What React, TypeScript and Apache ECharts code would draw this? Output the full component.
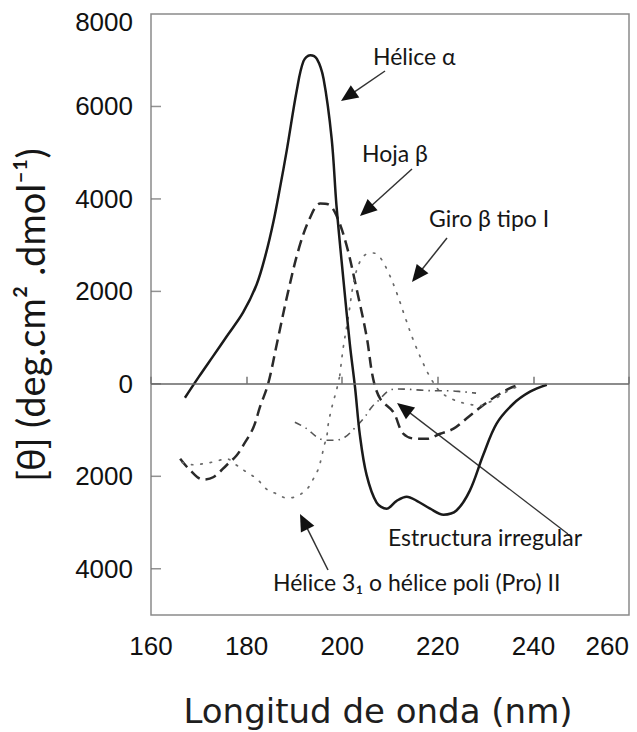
import React, { useEffect, useRef } from 'react';
import * as echarts from 'echarts';

// ---- Data ----
const helixAlphaNm = [167.1, 170, 173, 176, 179.3, 182.1, 184, 185.6, 187, 188.4, 190.5, 191.9, 193.3, 194.7, 196.1, 197.8, 198.8, 200.2, 201.6, 202.7, 203.7, 205.1, 207.2, 209.3, 211.4, 213.5, 215.6, 218.4, 221.2, 223.9, 226.7, 229.5, 232.3, 235.8, 239.3, 242.8];
const helixAlphaVal = [-300, 150, 600, 1050, 1550, 2150, 2800, 3500, 4250, 5050, 6350, 6980, 7110, 7030, 6600, 5300, 3860, 2310, 860, -90, -1110, -1970, -2570, -2700, -2530, -2440, -2530, -2700, -2830, -2740, -2310, -1540, -860, -430, -170, -20];

const betaSheetNm = [166.1, 168.2, 170.9, 173, 175.8, 177.9, 179.3, 181.4, 182.8, 184.5, 186.5, 188.7, 191, 193.3, 195.4, 197.1, 198.8, 200.9, 203, 205.1, 206.5, 208, 210.7, 212.8, 215.6, 217.7, 220.5, 223.3, 226, 229, 232, 235, 237];
const betaSheetVal = [-1620, -1870, -2070, -2020, -1760, -1550, -1330, -950, -500, 0, 950, 2000, 2950, 3600, 3900, 3880, 3640, 3000, 2060, 1030, 100, -330, -610, -1080, -1190, -1190, -1080, -970, -750, -500, -280, -100, -20];

const helix31Nm = [166.5, 168.8, 170.9, 173.4, 175.8, 177.9, 180, 182.1, 184.2, 186.3, 188.4, 190.5, 192.6, 194, 195, 195.7, 196.2, 196.8, 197.1, 197.6, 198.1, 198.8, 199.5];
const helix31Val = [-1700, -1750, -1730, -1680, -1620, -1760, -1910, -2050, -2280, -2380, -2470, -2430, -2280, -2050, -1840, -1580, -1350, -1120, -860, -610, -400, -140, 180];

const betaTurnNm = [199.5, 200.2, 201.3, 202.3, 203.4, 204.8, 206.5, 207.9, 209.7, 211.4, 213.1, 214.9, 217, 218.7, 220.5, 223.2, 226, 228.8, 230.9, 233, 235.1, 237.2];
const betaTurnVal = [180, 770, 1460, 2140, 2570, 2790, 2830, 2740, 2400, 1970, 1460, 940, 430, 90, -170, -340, -430, -470, -390, -260, -130, -40];

const irregularNm = [190.1, 192.6, 194.7, 196.4, 198.5, 200.6, 202.3, 204.4, 206.2, 207.6, 209.7, 211.7, 214.2, 217, 219.5, 222, 225, 228];
const irregularVal = [-830, -970, -1150, -1220, -1220, -1150, -990, -760, -500, -360, -150, -110, -120, -140, -150, -150, -170, -200];

const xTickValues = [160, 180, 200, 220, 240, 260];
const yTickLabels = [8000, 6000, 4000, 2000, 0, -2000, -4000];

const annotations = [
  'Hélice α',
  'Hoja β',
  'Giro β tipo I',
  'Estructura irregular',
  'Hélice 3₁ o hélice poli (Pro) II',
];

const toPairs = (xs: number[], ys: number[]) => xs.map((x, i) => [x, ys[i]]);

const LABEL_FONT = '"Liberation Sans", Arial, sans-serif';
const NOTE_FONT = 'Lato, "Open Sans", sans-serif';

function arrow(sx: number, sy: number, tx: number, ty: number, lw = 1.5) {
  const dx = tx - sx;
  const dy = ty - sy;
  const len = Math.hypot(dx, dy);
  const ux = dx / len;
  const uy = dy / len;
  const L = 17;
  const W = 7.5;
  const bx = tx - ux * L;
  const by = ty - uy * L;
  return [
    {
      type: 'line',
      shape: { x1: sx, y1: sy, x2: bx + ux * 2, y2: by + uy * 2 },
      style: { stroke: '#333', lineWidth: lw },
      silent: true,
    },
    {
      type: 'polygon',
      shape: { points: [[tx, ty], [bx - uy * W, by + ux * W], [bx + uy * W, by - ux * W]] },
      style: { fill: '#111' },
      silent: true,
    },
  ];
}

function note(text: string, x: number, y: number) {
  return {
    type: 'text',
    x,
    y,
    silent: true,
    style: {
      text,
      fill: '#161616',
      font: `23px ${NOTE_FONT}`,
      textAlign: 'left',
      textVerticalAlign: 'middle',
    },
  };
}

export default function App() {
  const ref = useRef<HTMLDivElement>(null);

  useEffect(() => {
    if (!ref.current) return;
    const chart = echarts.init(ref.current, null, { renderer: 'svg' });

    const dotted = { color: '#6a6a6a', width: 1.7, type: [1.5, 8], cap: 'round' };

    const option: any = {
      animation: false,
      backgroundColor: '#ffffff',
      grid: {
        left: 151,
        right: 8,
        top: 14,
        bottom: 117,
        show: true,
        borderColor: '#8a8a8a',
        borderWidth: 1.5,
      },
      xAxis: {
        type: 'value',
        min: 160,
        max: 260,
        interval: 20,
        axisLine: { show: false },
        splitLine: { show: false },
        axisTick: { show: true, inside: true, length: 7, lineStyle: { color: '#777', width: 1.5 } },
        axisLabel: {
          margin: 18,
          fontSize: 26,
          color: '#111',
          fontFamily: LABEL_FONT,
          alignMaxLabel: 'right',
          formatter: (v: number) => (xTickValues.includes(v) ? String(v) : ''),
        },
      },
      yAxis: {
        type: 'value',
        min: -5000,
        max: 8000,
        interval: 1000,
        axisLine: { show: false },
        splitLine: { show: false },
        axisTick: { show: false },
        axisLabel: {
          margin: 18,
          fontSize: 26,
          color: '#111',
          fontFamily: LABEL_FONT,
          formatter: (v: number) => {
            if (!yTickLabels.includes(v)) return '';
            const s = String(Math.abs(v));
            return v === 8000 ? `{top|${s}}` : s;
          },
          rich: {
            top: { padding: [16, 0, 0, 0], fontSize: 26, fontFamily: LABEL_FONT, color: '#111' },
          },
        },
      },
      series: [
        {
          type: 'scatter',
          name: 'ticks',
          data: yTickLabels.filter((v) => v !== 8000).map((v) => [160, v]),
          symbol: 'rect',
          symbolSize: [10, 1.5],
          symbolOffset: [5, 0],
          itemStyle: { color: '#777' },
          clip: false,
          silent: true,
        },
        {
          type: 'line',
          name: 'Hoja β',
          data: toPairs(betaSheetNm, betaSheetVal),
          showSymbol: false,
          smooth: 0.35,
          lineStyle: { color: '#2a2a2a', width: 2.5, type: [11, 6] },
          silent: true,
        },
        {
          type: 'line',
          name: 'Hélice 3₁ o hélice poli (Pro) II',
          data: toPairs(helix31Nm, helix31Val),
          showSymbol: false,
          smooth: 0.35,
          lineStyle: dotted,
          silent: true,
        },
        {
          type: 'line',
          name: 'Giro β tipo I',
          data: toPairs(betaTurnNm, betaTurnVal),
          showSymbol: false,
          smooth: 0.35,
          lineStyle: dotted,
          silent: true,
        },
        {
          type: 'line',
          name: 'Estructura irregular',
          data: toPairs(irregularNm, irregularVal),
          showSymbol: false,
          smooth: 0.35,
          lineStyle: { color: '#555', width: 1.6, type: [7, 5, 1.5, 5] },
          silent: true,
        },
        {
          type: 'line',
          name: 'Hélice α',
          data: toPairs(helixAlphaNm, helixAlphaVal),
          showSymbol: false,
          smooth: 0.35,
          lineStyle: { color: '#1a1a1a', width: 2.5 },
          silent: true,
          markLine: {
            silent: true,
            symbol: ['none', 'none'],
            label: { show: false },
            lineStyle: { color: '#666', width: 1.5, type: 'solid' },
            data: [{ yAxis: 0 }],
          },
        },
      ],
      graphic: [
        note(annotations[0], 373, 56),
        note(annotations[1], 362, 153),
        note(annotations[2], 429, 218),
        note(annotations[3], 388, 537),
        note(annotations[4], 273, 582),
        ...arrow(385, 71, 341, 101),
        ...arrow(412, 169, 360, 216),
        ...arrow(447, 238, 412, 282),
        ...arrow(568, 534, 397, 403, 1.3),
        ...arrow(328, 570, 300, 514),
        {
          type: 'text',
          x: 30,
          y: 315,
          rotation: Math.PI / 2,
          silent: true,
          style: {
            text: '[θ] (deg.cm² .dmol⁻¹)',
            fill: '#161616',
            font: `38px ${NOTE_FONT}`,
            textAlign: 'center',
            textVerticalAlign: 'middle',
          },
        },
        {
          type: 'text',
          x: 378,
          y: 711,
          silent: true,
          style: {
            text: 'Longitud de onda (nm)',
            fill: '#1e1e1e',
            font: '34px "DejaVu Sans", Verdana, sans-serif',
            textAlign: 'center',
            textVerticalAlign: 'middle',
          },
        },
      ],
    };

    chart.setOption(option);
    return () => chart.dispose();
  }, []);

  return (
    <div
      ref={ref}
      style={{ position: 'absolute', left: 0, top: 0, width: 637, height: 732, background: '#fff' }}
    />
  );
}
